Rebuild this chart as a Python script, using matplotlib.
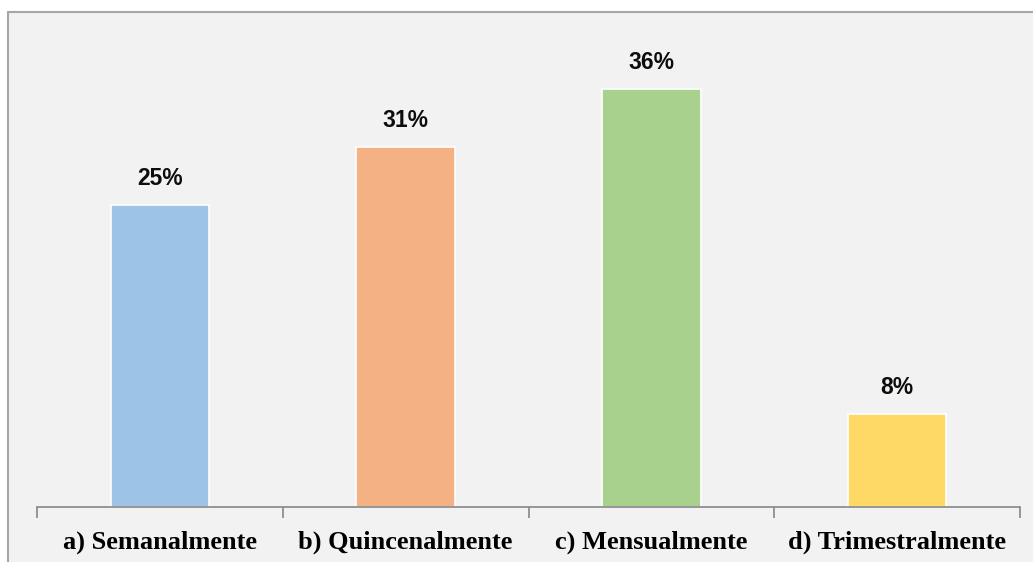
import numpy as np
import matplotlib.pyplot as plt
from matplotlib.patches import Rectangle

categories = ['a) Semanalmente', 'b) Quincenalmente', 'c) Mensualmente', 'd) Trimestralmente']
values = [26, 31, 36, 8]
value_labels = ['25%', '31%', '36%', '8%']
colors = ['#9dc3e6', '#f4b183', '#a9d18e', '#ffd966']

W, H = 1033, 562
fig = plt.figure(figsize=(W / 100, H / 100), dpi=100)
fig.patch.set_facecolor('white')

# outer chart area frame (cut off on the right and bottom)
fig.patches.append(Rectangle((8 / W, -0.1), 1.2, (H - 12) / H + 0.1,
                             transform=fig.transFigure, facecolor='#f2f2f2',
                             edgecolor='#a6a6a6', linewidth=1.5, zorder=-5))

ax = fig.add_axes([37 / W, (H - 507) / H, (1020 - 37) / W, (507 - 43) / H])
ax.set_facecolor('none')

x = np.arange(len(categories))
bars = ax.bar(x, values, width=0.4, color=colors, edgecolor='white', linewidth=1.2, zorder=2)

for b, lab in zip(bars, value_labels):
    ax.text(b.get_x() + b.get_width() / 2, b.get_height() + 1.3, lab,
            ha='center', va='bottom', fontsize=16.5, fontweight='bold',
            family='Liberation Sans', color='#0d0d0d')

ax.set_xlim(-0.5, len(categories) - 0.5)
ax.set_ylim(0, 40)
ax.set_yticks([])
for s in ['top', 'right', 'left']:
    ax.spines[s].set_visible(False)
ax.spines['bottom'].set_color('#868686')
ax.spines['bottom'].set_linewidth(1.2)

ax.set_xticks(np.arange(len(categories) + 1) - 0.5)
ax.set_xticklabels([])
ax.set_xticks(x, minor=True)
ax.set_xticklabels(categories, minor=True, fontsize=19, fontweight='bold',
                   family='Liberation Serif', color='black')
ax.tick_params(axis='x', which='major', length=8, width=1.2, color='#868686')
ax.tick_params(axis='x', which='minor', length=0, pad=17)

fig.savefig('out.png', dpi=100, facecolor=fig.get_facecolor())
